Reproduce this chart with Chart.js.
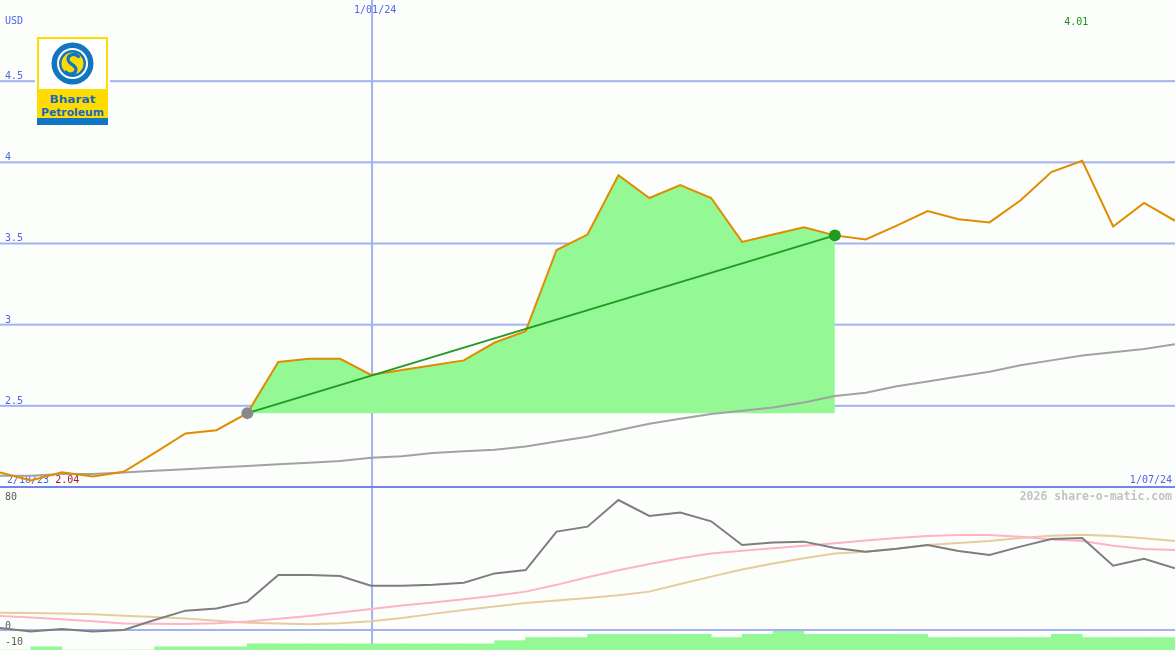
<!DOCTYPE html>
<html><head><meta charset="utf-8">
<script src="https://cdn.jsdelivr.net/npm/chart.js@4.4.1/dist/chart.umd.min.js"></script>
<style>
html,body{margin:0;padding:0;background:#fcfefc;}
#wrap{position:relative;width:1175px;height:650px;overflow:hidden;background:#fcfefc;}
#c{position:absolute;left:0;top:0;}
#logo{position:absolute;left:35px;top:35px;padding:2px;background:#fcfefc;line-height:0;}
</style></head><body>
<div id="wrap">
<canvas id="c" width="1175" height="650"></canvas>
<div id="logo"><svg width="71" height="88" viewBox="0 0 71 88" xmlns="http://www.w3.org/2000/svg">
<rect x="0" y="0" width="71" height="88" fill="#ffdc00"/>
<rect x="2" y="2" width="67" height="50" fill="#ffffff"/>
<circle cx="35.5" cy="26.5" r="21" fill="#1275c2"/>
<circle cx="35.5" cy="26.5" r="15.5" fill="#ffffff"/>
<circle cx="35.5" cy="26.5" r="13.5" fill="#1275c2"/>
<circle cx="35.5" cy="26.5" r="11" fill="#ffdc00"/>
<path d="M41.5 19.5 C37 15.5 29.5 18 31.5 24 C33 28 39.5 28 39 33 C38.5 37 32 38.5 29 35" fill="none" stroke="#1275c2" stroke-width="3.2" stroke-linecap="round"/>
<text x="35.5" y="66" text-anchor="middle" font-family="DejaVu Sans, sans-serif" font-weight="bold" font-size="10.5" textLength="46" lengthAdjust="spacingAndGlyphs" fill="#1a68bc">Bharat</text>
<text x="35.5" y="78.7" text-anchor="middle" font-family="DejaVu Sans, sans-serif" font-weight="bold" font-size="10.5" textLength="63" lengthAdjust="spacingAndGlyphs" fill="#1a68bc">Petroleum</text>
<rect x="0" y="81" width="71" height="7" fill="#1275c2"/>
</svg></div>
</div>
<script>
// ---- data ----
const dates = ['2/10/23','16/10/23','23/10/23','30/10/23','6/11/23','13/11/23','20/11/23','27/11/23','4/12/23','11/12/23','18/12/23','25/12/23',
  '1/01/24','8/01/24','15/01/24','22/01/24','29/01/24','5/02/24','12/02/24','19/02/24','26/02/24','4/03/24','11/03/24','18/03/24','25/03/24',
  '1/04/24','8/04/24','15/04/24','22/04/24','29/04/24','6/05/24','13/05/24','20/05/24','27/05/24','3/06/24','10/06/24','17/06/24','24/06/24','1/07/24'];
const price = [2.09,2.04,2.09,2.065,2.094,2.21,2.33,2.35,2.455,2.77,2.79,2.79,2.69,2.72,2.75,2.78,2.89,2.96,3.46,3.555,3.92,3.78,3.86,3.78,3.51,
  3.555,3.60,3.55,3.525,3.61,3.70,3.65,3.63,3.765,3.94,4.01,3.605,3.75,3.64];
const priceMA = [2.07,2.07,2.08,2.08,2.09,2.10,2.11,2.12,2.13,2.14,2.15,2.16,2.18,2.19,2.21,2.22,2.23,2.25,2.28,2.31,2.35,2.39,2.42,2.45,2.47,
  2.49,2.52,2.56,2.58,2.62,2.65,2.68,2.71,2.75,2.78,2.81,2.83,2.85,2.88];
const oscillator = [1.2,-1.0,0.6,-1.0,0.0,6.2,12.0,13.4,17.6,34.1,34.1,33.5,27.5,27.5,28.1,29.3,35.1,37.2,61.0,64.1,80.6,70.7,72.8,67.4,52.7,
  54.2,54.8,50.9,48.6,50.4,52.7,49.0,46.5,51.7,56.4,57.1,39.9,44.2,38.3];
const oscFast = [8.7,7.8,6.6,5.5,4.1,3.8,3.7,4.2,5.2,7.0,8.7,10.8,13.0,15.2,17.0,19.0,21.2,23.8,28.0,32.7,37.0,40.9,44.5,47.5,49.2,
  50.7,52.3,53.8,55.5,57.1,58.3,58.9,58.9,57.8,56.2,55.2,52.3,50.2,49.6];
const oscSlow = [10.7,10.5,10.3,9.7,8.9,8.1,7.2,5.8,4.5,4.0,3.5,4.2,5.4,7.5,10.0,12.4,14.6,16.7,18.3,19.8,21.5,23.8,28.5,33.1,37.5,
  41.3,44.5,47.5,48.6,50.4,52.7,54.0,55.2,57.0,58.5,59.1,58.3,56.9,55.2];
const volume = [0,1,0,0,0,1,1,1,2,2,2,2,2,2,2,2,3,4,4,5,5,5,5,4,5,6,5,5,5,5,4,4,4,4,5,4,4,4];
const trendStart = 8, trendEnd = 27;
const priceTicks = [2.5,3,3.5,4,4.5];
const priceFloor = 2;
const oscTicks = [80,0,-10];
const topDateMarks = ['1/01/24'];
const currency = 'USD';
const watermark = '2026 share-o-matic.com';

// ---- derived datasets ----
const areaData = price.map((v,i)=> (i>=trendStart && i<=trendEnd) ? v : null);
const trendData = price.map((v,i)=> (i===trendStart || i===trendEnd) ? v : null);
const minIdx = price.indexOf(Math.min(...price));
const maxIdx = price.indexOf(Math.max(...price));

const GRID = '#a4b2f2', SEP = '#7484ea', BLUE = '#5263ea';
const FONT = '10px "DejaVu Sans Mono", monospace';

const panelPlugin = {
  id: 'panel',
  beforeDatasetsDraw(chart) {
    const {ctx} = chart; const W = chart.width, H = chart.height;
    const x = chart.scales.x, y = chart.scales.y, yo = chart.scales.yo;
    ctx.save();
    ctx.fillStyle = GRID;
    priceTicks.forEach(v => { const p = y.getPixelForValue(v); ctx.fillRect(0, p-1, W, 2); });
    ctx.fillRect(0, yo.getPixelForValue(0)-1, W, 2);
    topDateMarks.forEach(d => { const px = x.getPixelForValue(dates.indexOf(d)); ctx.fillRect(px, 0, 2, H); });
    ctx.fillStyle = SEP;
    ctx.fillRect(0, y.getPixelForValue(priceFloor)-1, W, 2);
    ctx.font = FONT; ctx.textBaseline = 'alphabetic';
    ctx.fillStyle = BLUE; ctx.textAlign = 'left';
    ctx.fillText(currency, 5, 24);
    priceTicks.forEach(v => ctx.fillText(String(v), 5, y.getPixelForValue(v)-2));
    topDateMarks.forEach(d => { const px = x.getPixelForValue(dates.indexOf(d)); ctx.fillText(d, px-17, 13); });
    ctx.fillText(dates[0], 7, 483);
    ctx.textAlign = 'right';
    ctx.fillText(dates[dates.length-1], 1172, 483);
    ctx.textAlign = 'left';
    ctx.fillStyle = '#a01c1c';
    ctx.fillText(price[minIdx].toFixed(2), 7 + 8*6.02, 483);
    ctx.fillStyle = '#179017';
    ctx.fillText(price[maxIdx].toFixed(2), x.getPixelForValue(maxIdx)-18, 25);
    ctx.fillStyle = '#5c5c5c';
    oscTicks.forEach(v => ctx.fillText(String(v), 5, yo.getPixelForValue(v)-1.5));
    ctx.fillStyle = '#c2c2c2'; ctx.textAlign = 'right';
    ctx.font = 'bold 11.5px "DejaVu Sans Mono", monospace';
    ctx.fillText(watermark, 1172, 500);
    ctx.restore();
  }
};

new Chart(document.getElementById('c'), {
  type: 'line',
  data: {
    labels: dates,
    datasets: [
      {data: areaData, borderWidth: 0, pointRadius: 0, backgroundColor: '#94f994', fill: {value: price[trendStart]}, spanGaps: false, order: 10},
      {data: priceMA, borderColor: '#a2a2a2', borderWidth: 2, pointRadius: 0, fill: false, order: 9},
      {type: 'bar', data: volume, xAxisID: 'xb', yAxisID: 'yv', backgroundColor: '#94f994', borderWidth: 0, grouped: false, barPercentage: 1, categoryPercentage: 1, order: 8},
      {data: oscSlow, yAxisID: 'yo', borderColor: '#e6cc9c', borderWidth: 2, pointRadius: 0, fill: false, order: 7},
      {data: oscFast, yAxisID: 'yo', borderColor: '#ffb2c8', borderWidth: 2, pointRadius: 0, fill: false, order: 6},
      {data: oscillator, yAxisID: 'yo', borderColor: '#7e7e7e', borderWidth: 2, pointRadius: 0, fill: false, order: 5},
      {data: price, borderColor: '#e08c00', borderWidth: 2, pointRadius: 0, fill: false, order: 2},
      {data: trendData, borderColor: '#229a22', borderWidth: 2, spanGaps: true, fill: false, order: 1,
        pointRadius: 6, pointBorderWidth: 0,
        pointBackgroundColor: ctx => ctx.dataIndex === trendStart ? '#888888' : '#229a22'}
    ]
  },
  options: {
    responsive: false, animation: false, devicePixelRatio: 1,
    layout: {padding: 0, autoPadding: false},
    plugins: {legend: {display: false}, tooltip: {enabled: false}},
    scales: {
      x: {type: 'category', display: false, offset: false},
      xb: {type: 'category', labels: dates.slice(0, volume.length), display: false, offset: true},
      y: {display: false, min: 5 - 650/162.33, max: 5},
      yo: {display: false, min: -20/1.6125, max: 630/1.6125},
      yv: {display: false, min: 0, max: 650/3.12}
    }
  },
  plugins: [panelPlugin]
});
</script>
</body></html>
